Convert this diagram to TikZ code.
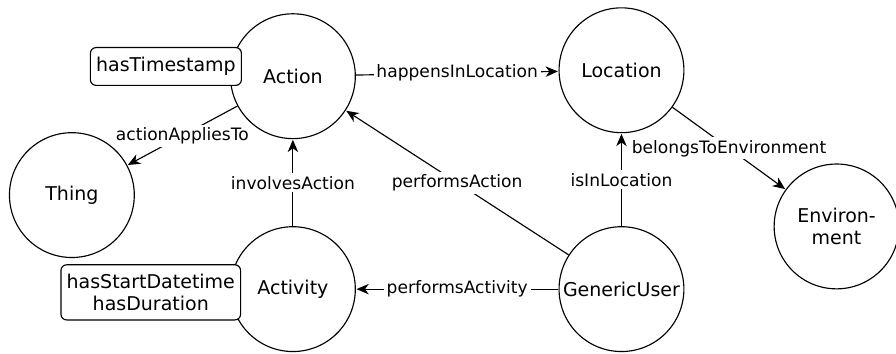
\documentclass[tikz,border=0pt]{standalone}
\usepackage{fontspec}
\setmainfont{DejaVu Sans}
\usetikzlibrary{arrows.meta,automata}

\begin{document}
\begin{tikzpicture}[->,>={Stealth[length=6.5pt,width=5.5pt,inset=2pt]},
                    shorten >=0.3pt,node distance=6.08cm,semithick]
  \tikzstyle{every state}=[circle,draw,minimum size=2.31cm,inner sep=0pt,
                           align=center,font=\fontsize{10}{12}\selectfont]
  \tikzstyle{attr}=[rectangle,draw,rounded corners=3pt,fill=white,align=center,
                    inner xsep=3pt,font=\fontsize{10}{11.5}\selectfont]
  \tikzstyle{prop}=[fill=white,inner sep=1.5pt,font=\fontsize{9}{11}\selectfont]

  \useasboundingbox (-5.42,1.41) rectangle (11.16,-5.14);

  \node[state] (Action)                                       {Action};
  \node[state] (Location) [right of=Action,yshift=0.11cm]     {Location};
  \node[state] (Activity) [below of=Action,node distance=3.94cm] {Activity};
  \node[state] (User)     [right of=Activity]                 {GenericUser};
  \node[state] (Thing)    at (-4.09,-2.20)                    {Thing};
  \node[state] (Env)      at (10.06,-2.78)                    {Environ-\\ment};

  \node[attr,minimum height=0.70cm] (Stamp) at (-2.35,0.18) {hasTimestamp};
  \node[attr,minimum height=1.02cm] (Times) at (-2.63,-4.00)
       {hasStartDatetime\\hasDuration};

  \path (Action)   edge node[prop] {happensInLocation}    (Location)
                   edge node[prop] {actionAppliesTo}      (Thing)
        (Activity) edge node[prop] {involvesAction}       (Action)
        (User)     edge node[prop] {performsAction}       (Action)
                   edge node[prop] {isInLocation}         (Location)
                   edge node[prop] {performsActivity}     (Activity)
        (Location) edge node[prop] {belongsToEnvironment} (Env);

\end{tikzpicture}
\end{document}
